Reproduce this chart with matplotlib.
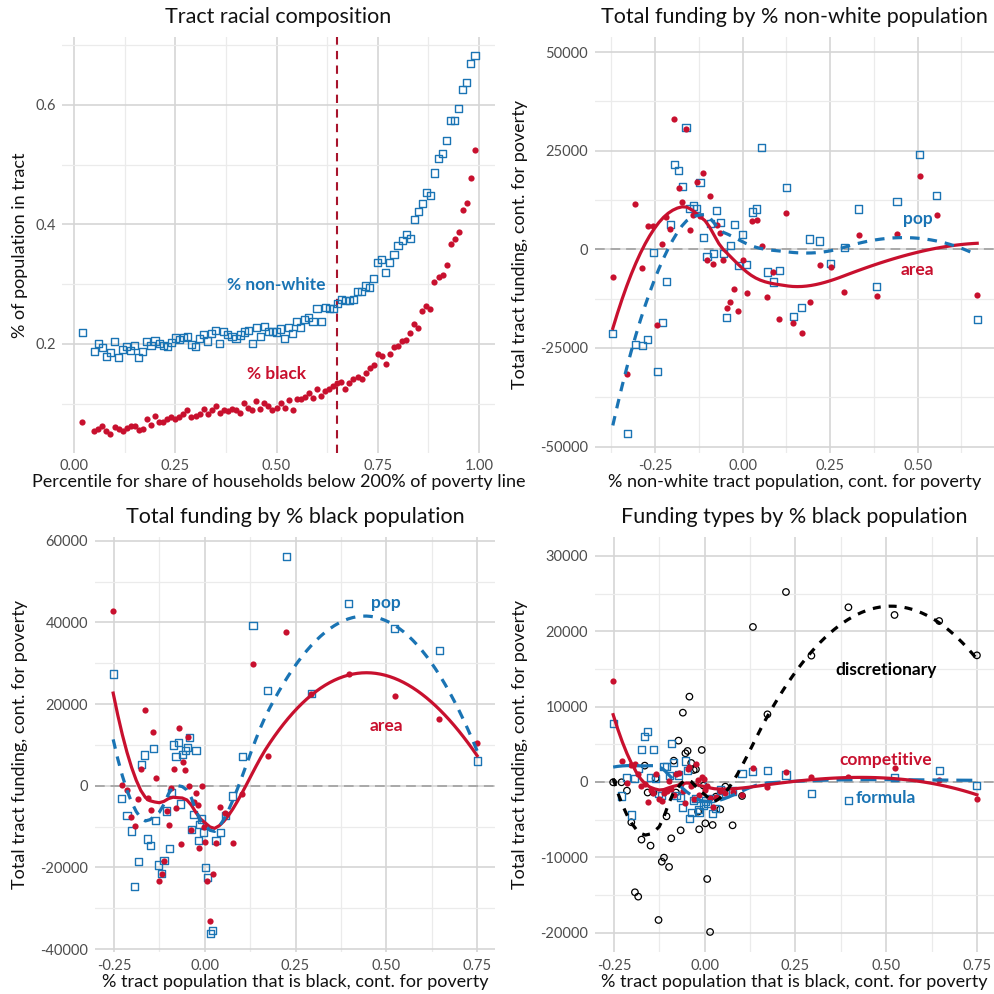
import numpy as np
import matplotlib
matplotlib.use("Agg")
import matplotlib.pyplot as plt

plt.rcParams["font.family"] = ["Lato", "DejaVu Sans"]
plt.rcParams["axes.unicode_minus"] = False

BLUE = "#1a74b4"
RED = "#c8102e"
VLINE = "#a8142c"
GRID_MAJ = "#d5d5d5"
GRID_MIN = "#ebebeb"
TICK_COL = "#4d4d4d"

# ---------------- Panel 1: tract racial composition by poverty percentile
pctile = [0.02, 0.05, 0.06, 0.07, 0.08, 0.09, 0.10, 0.11, 0.12, 0.13, 0.14, 0.15,
          0.16, 0.17, 0.18, 0.19, 0.20, 0.21, 0.22, 0.23, 0.24, 0.25, 0.26, 0.27,
          0.28, 0.29, 0.30, 0.31, 0.32, 0.33, 0.34, 0.35, 0.36, 0.37, 0.38, 0.39,
          0.40, 0.41, 0.42, 0.43, 0.44, 0.45, 0.46, 0.47, 0.48, 0.49, 0.50, 0.51,
          0.52, 0.53, 0.54, 0.55, 0.56, 0.57, 0.58, 0.59, 0.60, 0.61, 0.62, 0.63,
          0.64, 0.65, 0.66, 0.67, 0.68, 0.69, 0.70, 0.71, 0.72, 0.73, 0.74, 0.75,
          0.76, 0.77, 0.78, 0.79, 0.80, 0.81, 0.82, 0.83, 0.84, 0.85, 0.86, 0.87,
          0.88, 0.89, 0.90, 0.91, 0.92, 0.93, 0.94, 0.95, 0.96, 0.97, 0.98, 0.99]
pct_nonwhite = [0.219, 0.188, 0.201, 0.194, 0.179, 0.186, 0.204, 0.177, 0.191, 0.196,
                0.189, 0.198, 0.178, 0.188, 0.204, 0.198, 0.205, 0.201, 0.197, 0.195,
                0.203, 0.210, 0.207, 0.211, 0.213, 0.199, 0.196, 0.209, 0.216, 0.205,
                0.218, 0.223, 0.201, 0.221, 0.216, 0.212, 0.209, 0.215, 0.220, 0.223,
                0.201, 0.227, 0.213, 0.229, 0.221, 0.221, 0.220, 0.225, 0.209, 0.227,
                0.217, 0.237, 0.228, 0.241, 0.245, 0.238, 0.259, 0.237, 0.261, 0.259,
                0.259, 0.268, 0.275, 0.273, 0.272, 0.275, 0.288, 0.288, 0.297, 0.294,
                0.309, 0.337, 0.341, 0.320, 0.337, 0.350, 0.364, 0.373, 0.383, 0.377,
                0.409, 0.421, 0.435, 0.454, 0.448, 0.486, 0.510, 0.519, 0.540, 0.574,
                0.574, 0.594, 0.625, 0.637, 0.669, 0.682]
pct_black = [0.070, 0.055, 0.057, 0.063, 0.054, 0.050, 0.061, 0.057, 0.055, 0.060,
             0.062, 0.062, 0.056, 0.058, 0.074, 0.065, 0.080, 0.069, 0.069, 0.075,
             0.077, 0.075, 0.078, 0.083, 0.089, 0.077, 0.079, 0.082, 0.091, 0.083,
             0.089, 0.096, 0.084, 0.089, 0.087, 0.091, 0.089, 0.084, 0.102, 0.093,
             0.089, 0.104, 0.091, 0.102, 0.096, 0.090, 0.093, 0.101, 0.093, 0.106,
             0.089, 0.108, 0.108, 0.111, 0.118, 0.110, 0.125, 0.113, 0.122, 0.125,
             0.129, 0.134, 0.137, 0.125, 0.134, 0.142, 0.144, 0.141, 0.151, 0.159,
             0.165, 0.184, 0.180, 0.166, 0.184, 0.195, 0.196, 0.205, 0.206, 0.219,
             0.234, 0.227, 0.255, 0.263, 0.258, 0.303, 0.312, 0.316, 0.332, 0.367,
             0.375, 0.387, 0.424, 0.436, 0.477, 0.525]
poverty_cutoff = 0.65

# ---------------- Panel 2: total funding by % non-white (residualised)
nonwhite_resid = [-0.371, -0.330, -0.307, -0.287, -0.271, -0.256, -0.244, -0.230, -0.218,
                  -0.207, -0.195, -0.183, -0.172, -0.162, -0.151, -0.141, -0.131, -0.122,
                  -0.112, -0.102, -0.093, -0.084, -0.074, -0.064, -0.055, -0.046, -0.035,
                  -0.024, -0.012, 0.000, 0.012, 0.027, 0.040, 0.055, 0.070, 0.088, 0.105,
                  0.124, 0.145, 0.169, 0.192, 0.220, 0.252, 0.290, 0.332, 0.383, 0.441,
                  0.506, 0.555, 0.670]
nw_area = [-7020, -31700, 11500, -4740, 5840, 5840, -19290, 1270, 8290, 5160,
           33080, 15570, 11930, 30540, 4910, 8710, 17170, 8460, 19460, -2710,
           13540, -3810, 6180, 4150, -2620, -14970, -13280, -10070, -15650, -2790,
           -11000, 7110, 7360, 930, -12010, -5670, -17680, 9220, -18780, -21150,
           -13450, -4060, -4570, -10740, 3550, -11930, 3810, 18530, 8710, -11680]
nw_pop = [-21240, -46700, -24030, -24450, -22840, -760, -30960, -18440, -8040, 6350,
          21400, 20050, 15990, 30960, 10410, 11000, 10410, 17000, 2960, -1780,
          6510, -1020, 9900, 6850, -1020, -17170, 930, 6350, -4150, 3720,
          -3890, 9480, 10240, 25890, -5750, -8290, -5330, 15650, -16920, -14720,
          2620, 2120, -3550, 510, 10240, -9310, 12180, 24110, 13710, -17770]

# ---------------- Panels 3-4: funding by % black (residualised)
black_resid = [-0.252, -0.229, -0.214, -0.202, -0.192, -0.183, -0.174, -0.165, -0.157,
               -0.149, -0.141, -0.135, -0.127, -0.118, -0.112, -0.105, -0.098, -0.092,
               -0.085, -0.079, -0.072, -0.066, -0.060, -0.053, -0.047, -0.042, -0.037,
               -0.030, -0.024, -0.018, -0.015, -0.008, -0.003, 0.002, 0.007, 0.015,
               0.022, 0.031, 0.043, 0.057, 0.077, 0.103, 0.133, 0.173, 0.224, 0.294,
               0.396, 0.523, 0.646, 0.750]
bl_area = [42690, 160, -1060, -7760, -9800, -3350, 4000, 18610, -3100, -5880,
           13220, 1960, -23270, -21710, -18500, -6120, -9710, -490, 4160, -5470,
           14120, -14290, 5710, 3760, 11840, 0, -10860, -4080, -1880, -4650,
           -15180, 0, -10040, -13710, -23270, -33220, -21710, -14120, -5140, -6780,
           -13960, -1960, 29880, 7350, 37630, 22530, 27350, 22040, 16330, 10450]
bl_pop = [27350, -3180, -7270, -11100, -24730, -18610, 5220, 7510, -13060, -14690,
          9220, -8490, -19430, -21470, -18290, -6200, -15430, -1630, 9960, 7180,
          10610, -4490, 7590, 8650, 9310, 11840, -10780, -7020, 8650, -13470,
          -9550, -8160, -11510, -20080, -22450, -36160, -35430, -13470, -11430, -7350,
          -2530, 7180, 39180, 23350, 56240, 22690, 44570, 38610, 33060, 6040]
bl_discretionary = [-40, -40, -1150, -5350, -14640, -15220, -7650, 2170, -1400, -8450,
                    -1370, 490, -18320, -10580, -10040, -4560, -11280, -7480, 2830, -1400,
                    5490, -6420, 9200, 3810, 4120, 11330, 2520, 1590, 1680, -3940,
                    -6280, 4250, -490, -5490, -12880, -19910, -5710, -1950, -3630, -620,
                    -5750, -1860, 20580, 8980, 25220, 16770, 23190, 22170, 21370, 16810]
bl_competitive = [13410, 2790, -180, 2260, 2430, 1000, -600, -310, -2610, -1060,
                  -1420, 1060, -2300, -2480, -1500, -1150, 180, -900, -1770, 1100,
                  1150, -300, -1150, -2790, 1770, 2000, -500, -2300, 2350, 300,
                  -1770, 600, 440, -1000, -490, -2170, -3360, -2000, -1200, -1500,
                  -1280, -1770, 1810, -660, 1330, 660, 660, 1810, 200, -2300]
bl_formula = [7790, -1860, 620, -4380, 440, 1800, 4290, 6060, 6730, 600,
              4340, 490, -1500, -1770, 2040, 2040, 800, 5090, 2610, -1800,
              930, -2120, -3360, 2790, 1550, -4820, -4030, -2480, -2170, -3630,
              -3980, -90, -3140, -2520, -2830, -2210, -4160, -3540, -1060, -1500,
              -1200, 1150, 1330, 1500, 930, -1500, -2480, 620, 1550, -490]


def loess(x, y, span=0.75, degree=2, n_out=80, cell=0.2):
    """Loess smooth evaluated the classic way: local quadratic fits at the
    vertices of a k-d tree, blended with cubic Hermite interpolation."""
    x = np.asarray(x, float)
    y = np.asarray(y, float)
    n = len(x)
    q = int(np.floor(n * span + 1e-5))
    fc = int(np.floor(n * span * cell))
    xsorted = np.sort(x)
    mu = 0.005 * (x.max() - x.min())
    lo_b, hi_b = x.min() - mu, x.max() + mu
    verts = {lo_b, hi_b}

    def split(l, u, vlo, vhi):
        if (u - l + 1) <= fc:
            return
        m = (l + u) // 2
        xi = xsorted[m]
        if xi == vlo or xi == vhi:
            return
        verts.add(xi)
        split(l, m, vlo, xi)
        split(m + 1, u, xi, vhi)

    split(0, n - 1, lo_b, hi_b)
    v = np.array(sorted(verts))

    def local_fit(x0):
        d = np.abs(x - x0)
        rho = np.sort(d)[q - 1]
        w = np.clip(1 - (d / rho) ** 3, 0, None) ** 3
        X = np.vander(x - x0, degree + 1, increasing=True)
        sw = np.sqrt(w)
        beta = np.linalg.lstsq(X * sw[:, None], y * sw, rcond=None)[0]
        return beta[0], beta[1]

    vals = np.array([local_fit(vv) for vv in v])
    xs = np.linspace(x.min(), x.max(), n_out)
    idx = np.clip(np.searchsorted(v, xs, side="right") - 1, 0, len(v) - 2)
    v0, v1 = v[idx], v[idx + 1]
    h = v1 - v0
    t = (xs - v0) / h
    f0, s0 = vals[idx, 0], vals[idx, 1]
    f1, s1 = vals[idx + 1, 0], vals[idx + 1, 1]
    h00 = 2 * t**3 - 3 * t**2 + 1
    h10 = t**3 - 2 * t**2 + t
    h01 = -2 * t**3 + 3 * t**2
    h11 = t**3 - t**2
    return xs, h00 * f0 + h10 * h * s0 + h01 * f1 + h11 * h * s1


W = H = 994.0
fig = plt.figure(figsize=(W / 100, H / 100), dpi=100)
fig.patch.set_facecolor("white")


def panel(L, R, T, B):
    return fig.add_axes([L / W, 1 - B / H, (R - L) / W, (B - T) / H])


def style(ax, xlim, ylim, xmaj, xlabels, ymaj, ylabels):
    ax.set_xlim(*xlim)
    ax.set_ylim(*ylim)
    ax.set_xticks(xmaj)
    ax.set_xticklabels(xlabels)
    ax.set_yticks(ymaj)
    ax.set_yticklabels(ylabels)
    xm = [(a + b) / 2 for a, b in zip(xmaj[:-1], xmaj[1:])]
    ym = [(a + b) / 2 for a, b in zip(ymaj[:-1], ymaj[1:])]
    dx = xmaj[1] - xmaj[0]
    dy = ymaj[1] - ymaj[0]
    xm = [xmaj[0] - dx / 2] + xm + [xmaj[-1] + dx / 2]
    ym = [ymaj[0] - dy / 2] + ym + [ymaj[-1] + dy / 2]
    ax.set_xticks([v for v in xm if xlim[0] <= v <= xlim[1]], minor=True)
    ax.set_yticks([v for v in ym if ylim[0] <= v <= ylim[1]], minor=True)
    ax.grid(which="major", color=GRID_MAJ, lw=1.2, zorder=0)
    ax.grid(which="minor", color=GRID_MIN, lw=0.9, zorder=0)
    ax.set_axisbelow(True)
    for s in ax.spines.values():
        s.set_visible(False)
    ax.tick_params(which="both", length=0, pad=5, labelsize=10.5, labelcolor=TICK_COL)


def texts(L, R, T, B, title, xlabel, ylabel, ylab_x):
    cx = (L + R) / 2
    fig.text(cx / W, 1 - (T - 20) / H, title, ha="center", va="center", fontsize=15.5, color="#111111")
    fig.text(cx / W, 1 - (B + 30) / H, xlabel, ha="center", va="center", fontsize=13, color="#111111")
    fig.text(ylab_x / W, 1 - ((T + B) / 2) / H, ylabel, ha="center", va="center",
             rotation=90, fontsize=13, color="#111111")


sq = dict(marker="s", s=26, facecolors="none", linewidths=1.0)
dot = dict(marker="o", s=20, linewidths=0)

# ---- Panel 1
P1 = (62.5, 494.6, 37, 452.5)
ax1 = panel(*P1)
style(ax1, (-0.0285, 1.0385), (0.0184, 0.7136),
      [0, 0.25, 0.5, 0.75, 1.0], ["0.00", "0.25", "0.50", "0.75", "1.00"],
      [0.2, 0.4, 0.6], ["0.2", "0.4", "0.6"])
ax1.scatter(pctile, pct_nonwhite, edgecolors=BLUE, zorder=3, **sq)
ax1.scatter(pctile, pct_black, color=RED, zorder=3, **dot)
ax1.axvline(poverty_cutoff, color=VLINE, lw=1.5, ls=(0, (4, 3)), zorder=2)
ax1.text(0.5, 0.298, "% non-white", color=BLUE, fontsize=12.5, fontweight="bold", ha="center", va="center")
ax1.text(0.5, 0.149, "% black", color=RED, fontsize=12.5, fontweight="bold", ha="center", va="center")
texts(*P1, "Tract racial composition",
      "Percentile for share of households below 200% of poverty line",
      "% of population in tract", 20)

# ---- Panel 2
P2 = (594.6, 994, 37, 452.5)
ax2 = panel(*P2)
style(ax2, (-0.423, 0.718), (-51520, 53850),
      [-0.25, 0, 0.25, 0.5], ["-0.25", "0.00", "0.25", "0.50"],
      [-50000, -25000, 0, 25000, 50000], ["-50000", "-25000", "0", "25000", "50000"])
ax2.axhline(0, color="#a9a9a9", lw=1.4, ls=(0, (5, 3)), zorder=1)
ax2.scatter(nonwhite_resid, nw_pop, edgecolors=BLUE, zorder=3, **sq)
ax2.scatter(nonwhite_resid, nw_area, color=RED, zorder=3, **dot)
ax2.plot(*loess(nonwhite_resid, nw_area), color=RED, lw=2.3, zorder=4)
ax2.plot(*loess(nonwhite_resid, nw_pop), color=BLUE, lw=2.3, ls=(0, (3, 2.5)), zorder=4)
ax2.text(0.5, 7600, "pop", color=BLUE, fontsize=12.5, fontweight="bold", ha="center", va="center")
ax2.text(0.5, -5250, "area", color=RED, fontsize=12.5, fontweight="bold", ha="center", va="center")
texts(*P2, "Total funding by % non-white population",
      "% non-white tract population, cont. for poverty",
      "Total tract funding, cont. for poverty", 520)

# ---- Panel 3
P3 = (95, 495.3, 537.2, 952.2)
ax3 = panel(*P3)
style(ax3, (-0.302, 0.80), (-40780, 60860),
      [-0.25, 0, 0.25, 0.5, 0.75], ["-0.25", "0.00", "0.25", "0.50", "0.75"],
      [-40000, -20000, 0, 20000, 40000, 60000],
      ["-40000", "-20000", "0", "20000", "40000", "60000"])
ax3.axhline(0, color="#a9a9a9", lw=1.4, ls=(0, (5, 3)), zorder=1)
ax3.scatter(black_resid, bl_pop, edgecolors=BLUE, zorder=3, **sq)
ax3.scatter(black_resid, bl_area, color=RED, zorder=3, **dot)
ax3.plot(*loess(black_resid, bl_area), color=RED, lw=2.3, zorder=4)
ax3.plot(*loess(black_resid, bl_pop), color=BLUE, lw=2.3, ls=(0, (3, 2.5)), zorder=4)
ax3.text(0.5, 44650, "pop", color=BLUE, fontsize=12.5, fontweight="bold", ha="center", va="center")
ax3.text(0.5, 14690, "area", color=RED, fontsize=12.5, fontweight="bold", ha="center", va="center")
texts(*P3, "Total funding by % black population",
      "% tract population that is black, cont. for poverty",
      "Total tract funding, cont. for poverty", 20)

# ---- Panel 4
P4 = (595, 994, 537, 952)
ax4 = panel(*P4)
style(ax4, (-0.302, 0.797), (-22570, 32520),
      [-0.25, 0, 0.25, 0.5, 0.75], ["-0.25", "0.00", "0.25", "0.50", "0.75"],
      [-20000, -10000, 0, 10000, 20000, 30000],
      ["-20000", "-10000", "0", "10000", "20000", "30000"])
ax4.axhline(0, color="#a9a9a9", lw=1.4, ls=(0, (5, 3)), zorder=1)
ax4.scatter(black_resid, bl_discretionary, marker="o", s=22, facecolors="none",
            edgecolors="black", linewidths=0.9, zorder=3)
ax4.scatter(black_resid, bl_formula, edgecolors=BLUE, zorder=3, **sq)
ax4.scatter(black_resid, bl_competitive, color=RED, zorder=3, **dot)
ax4.plot(*loess(black_resid, bl_formula), color=BLUE, lw=2.3, ls=(0, (5, 2.5)), zorder=4)
ax4.plot(*loess(black_resid, bl_competitive), color=RED, lw=2.3, zorder=4)
ax4.plot(*loess(black_resid, bl_discretionary), color="black", lw=2.3, ls=(0, (2.5, 2.5)), zorder=4)
ax4.text(0.5, 14870, "discretionary", color="black", fontsize=12.5, fontweight="bold", ha="center", va="center")
ax4.text(0.5, 2920, "competitive", color=RED, fontsize=12.5, fontweight="bold", ha="center", va="center")
ax4.text(0.5, -2080, "formula", color=BLUE, fontsize=12.5, fontweight="bold", ha="center", va="center")
texts(*P4, "Funding types by % black population",
      "% tract population that is black, cont. for poverty",
      "Total tract funding, cont. for poverty", 520)

fig.savefig("out.png", dpi=100, facecolor="white")
